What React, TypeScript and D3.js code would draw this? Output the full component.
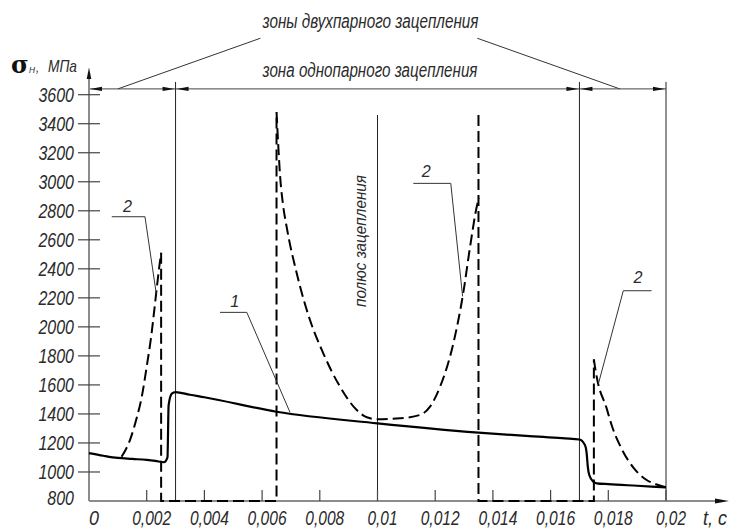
import React from 'react';
import * as d3 from 'd3';

const W = 731;
const H = 528;

// Axis ticks
const yTickValues = [800, 1000, 1200, 1400, 1600, 1800, 2000, 2200, 2400, 2600, 2800, 3000, 3200, 3400, 3600];
const yTickLabels = ['800', '1000', '1200', '1400', '1600', '1800', '2000', '2200', '2400', '2600', '2800', '3000', '3200', '3400', '3600'];
const xTickValues = [0, 0.002, 0.004, 0.006, 0.008, 0.01, 0.012, 0.014, 0.016, 0.018, 0.02];
const xTickLabels = ['0', '0,002', '0,004', '0,006', '0,008', '0,01', '0,012', '0,014', '0,016', '0,018', '0,02'];

// Curve 1 (solid): contact stress, t in s, sigma in MPa
const curve1T = [0, 0.0005, 0.001, 0.0015, 0.002, 0.0023, 0.0026, 0.00272, 0.00276, 0.00287, 0.003, 0.0035, 0.004, 0.0065, 0.01, 0.0135, 0.0156, 0.0165, 0.017, 0.01719, 0.01725, 0.01729, 0.01734, 0.01748, 0.0176, 0.018, 0.019, 0.02];
const curve1S = [1130, 1112, 1097, 1090, 1083, 1076, 1067, 1100, 1460, 1540, 1551, 1532, 1515, 1415, 1335, 1271, 1243, 1232, 1224, 1186, 1129, 1036, 979, 933, 922, 916, 905, 894];

// Curve 2 (dashed) pieces
const curve2LeftT = [0.00113, 0.00142, 0.00165, 0.00183, 0.002, 0.00217, 0.00226, 0.00235, 0.00244, 0.0025];
const curve2LeftS = [1105, 1220, 1370, 1519, 1726, 1956, 2110, 2270, 2420, 2510];
const curve2MidT = [0.0065, 0.00656, 0.00662, 0.00672, 0.00685, 0.0072, 0.00766, 0.00812, 0.0087, 0.00928, 0.00963, 0.01, 0.01078, 0.01147, 0.01182, 0.01217, 0.01263, 0.01297, 0.01321, 0.01344, 0.01352];
const curve2MidS = [3480, 3250, 3050, 2850, 2690, 2369, 2047, 1818, 1588, 1427, 1377, 1363, 1370, 1393, 1450, 1588, 1887, 2231, 2553, 2828, 2890];
const curve2RightT = [0.0175, 0.01755, 0.01762, 0.01794, 0.01812, 0.01846, 0.01887, 0.01933, 0.01973, 0.02];
const curve2RightS = [1776, 1710, 1634, 1440, 1320, 1160, 1030, 945, 910, 894];
// dashed verticals + baseline runs
const curve2StepAT = [0.0025, 0.0025, 0.0065, 0.0065];
const curve2StepAS = [2510, 800, 800, 3480];
const curve2StepBT = [0.0135, 0.0135, 0.0175, 0.0175];
const curve2StepBS = [3460, 800, 800, 1776];

// Zones of meshing and pitch point
const zoneBounds = [0, 0.003, 0.017, 0.02];
const polePos = 0.01;
const poleTop = 3460;
const dimLevel = 3640;
const extTop = 3688;

// Leader annotations (data coords)
const leaders = [
  { label: '1', lx: 0.0049, ly: 2140, pts: [[0.00454, 2100], [0.00547, 2100], [0.00697, 1410]] },
  { label: '2', lx: 0.00118, ly: 2794, pts: [[0.00079, 2759], [0.00194, 2759], [0.00233, 2230]] },
  { label: '2', lx: 0.01153, ly: 3035, pts: [[0.01124, 2989], [0.01254, 2989], [0.01295, 2210]] },
  { label: '2', lx: 0.01887, ly: 2304, pts: [[0.0195, 2249], [0.01852, 2249], [0.01766, 1610]] },
];
const titleLeaders = [
  [[0.00594, 3989], [0.001, dimLevel]],
  [[0.01346, 3989], [0.0184, dimLevel]],
];

const FONT = '"Liberation Sans", Arial, sans-serif';
const TXT = '#2b2b2b';

function Label(props: any) {
  const { x, y, text, size, width, anchor = 'start', transform } = props;
  return (
    <text
      x={x}
      y={y}
      fontSize={size}
      fontFamily={FONT}
      fontStyle="italic"
      fill={TXT}
      textAnchor={anchor}
      textLength={width}
      lengthAdjust="spacingAndGlyphs"
      transform={transform}
    >
      {text}
    </text>
  );
}

export default function App() {
  const x = d3.scaleLinear().domain([0, 0.02]).range([89, 666]);
  const y = d3.scaleLinear().domain([800, 3600]).range([501, 94.7]);
  const zip = (a: number[], b: number[]) => a.map((v, i) => [v, b[i]] as [number, number]);
  const smooth = d3.line<[number, number]>().x(d => x(d[0])).y(d => y(d[1])).curve(d3.curveMonotoneX);
  const straight = d3.line<[number, number]>().x(d => x(d[0])).y(d => y(d[1]));

  const x0 = x(0);
  const y0 = y(800);
  const dimY = y(dimLevel);
  const extY = y(extTop);

  const arrowH = (tipX: number, tipY: number, dir: number, len = 12, hw = 2.2) =>
    `M${tipX},${tipY}L${tipX - dir * len},${tipY - hw}L${tipX - dir * len},${tipY + hw}Z`;

  const dash = '11,5';

  return (
    <svg width={W} height={H} style={{ position: 'absolute', left: 0, top: 0, background: '#fff' }}>
      <rect x={0} y={0} width={W} height={H} fill="#fff" />

      {/* titles */}
      <Label x={370.5} y={28} text="зоны двухпарного зацепления" size={20} width={216} anchor="middle" />
      <Label x={370} y={77} text="зона однопарного зацепления" size={20} width={215} anchor="middle" />
      {titleLeaders.map((l, i) => (
        <path key={'tl' + i} d={straight(l as any) || ''} stroke="#333" strokeWidth={1} fill="none" />
      ))}

      {/* dimension line */}
      <line x1={x0} x2={x(0.02)} y1={dimY} y2={dimY} stroke="#444" strokeWidth={1} />
      {zoneBounds.slice(0, -1).map((a, i) => {
        const b = zoneBounds[i + 1];
        return (
          <g key={'dz' + i}>
            <path d={arrowH(x(a) + 1, dimY, -1)} fill="#111" />
            <path d={arrowH(x(b) - 1, dimY, 1)} fill="#111" />
          </g>
        );
      })}
      {/* extension lines */}
      {zoneBounds.slice(1).map((b, i) => (
        <line key={'ex' + i} x1={x(b)} x2={x(b)} y1={extY} y2={y0} stroke="#222" strokeWidth={1} />
      ))}
      {/* pitch point line */}
      <line x1={x(polePos)} x2={x(polePos)} y1={y(poleTop)} y2={y0} stroke="#222" strokeWidth={1} />
      <Label
        x={0}
        y={0}
        text="полюс зацепления"
        size={17}
        width={132}
        anchor="middle"
        transform={`translate(${x(polePos) - 12},${241}) rotate(-90)`}
      />

      {/* axes */}
      <line x1={x0} x2={719} y1={y0} y2={y0} stroke="#8c8c8c" strokeWidth={2} />
      <path d={arrowH(729, y0, 1, 14, 2.4)} fill="#111" />
      <line x1={x0} x2={x0} y1={y0} y2={75} stroke="#8c8c8c" strokeWidth={2} />
      <path d={`M${x0},${67.5}L${x0 - 2.3},${79}L${x0 + 2.3},${79}Z`} fill="#111" />

      {/* y ticks */}
      {yTickValues.map((v, i) => (
        <g key={'yt' + i}>
          {v > 800 && <line x1={78} x2={100} y1={y(v)} y2={y(v)} stroke="#444" strokeWidth={1.2} />}
          <Label
            x={74}
            y={v > 800 ? y(v) + 7 : y(v) + 4}
            text={yTickLabels[i]}
            size={19.5}
            width={yTickLabels[i].length * 8.9}
            anchor="end"
          />
        </g>
      ))}

      {/* x ticks */}
      {xTickValues.map((v, i) => (
        <g key={'xt' + i}>
          {v > 0 && <line x1={x(v)} x2={x(v)} y1={y0 - 11} y2={y0} stroke="#444" strokeWidth={1.2} />}
          <Label
            x={x(v) + 5}
            y={525}
            text={xTickLabels[i]}
            size={20}
            width={xTickLabels[i].length === 1 ? 10 : xTickLabels[i].length === 4 ? 30 : 39}
            anchor="middle"
          />
        </g>
      ))}
      <Label x={703} y={525} text="t, c" size={20} width={24} />

      {/* y axis title */}
      <text x={11} y={73} fontFamily='"DejaVu Serif", serif' fontWeight="bold" fontSize={24} fill="#111">σ</text>
      <Label x={29} y={73} text="H" size={9} width={6} />
      <Label x={36} y={72} text="," size={14} width={3} />
      <Label x={48} y={71.7} text="МПа" size={17} width={29} />

      {/* curve 1 */}
      <path d={smooth(zip(curve1T, curve1S)) || ''} stroke="#000" strokeWidth={2.2} fill="none" strokeLinejoin="round" />

      {/* curve 2 */}
      <g stroke="#000" strokeWidth={2} fill="none" strokeDasharray={dash}>
        <path d={smooth(zip(curve2LeftT, curve2LeftS)) || ''} />
        <path d={straight(zip(curve2StepAT, curve2StepAS)) || ''} />
        <path d={smooth(zip(curve2MidT, curve2MidS)) || ''} />
        <path d={straight(zip(curve2StepBT, curve2StepBS)) || ''} />
        <path d={smooth(zip(curve2RightT, curve2RightS)) || ''} />
      </g>

      {/* leaders */}
      {leaders.map((l, i) => (
        <g key={'ld' + i}>
          <path d={straight(l.pts as any) || ''} stroke="#333" strokeWidth={1} fill="none" />
          <Label x={x(l.lx)} y={y(l.ly)} text={l.label} size={17} width={9} />
        </g>
      ))}
    </svg>
  );
}
